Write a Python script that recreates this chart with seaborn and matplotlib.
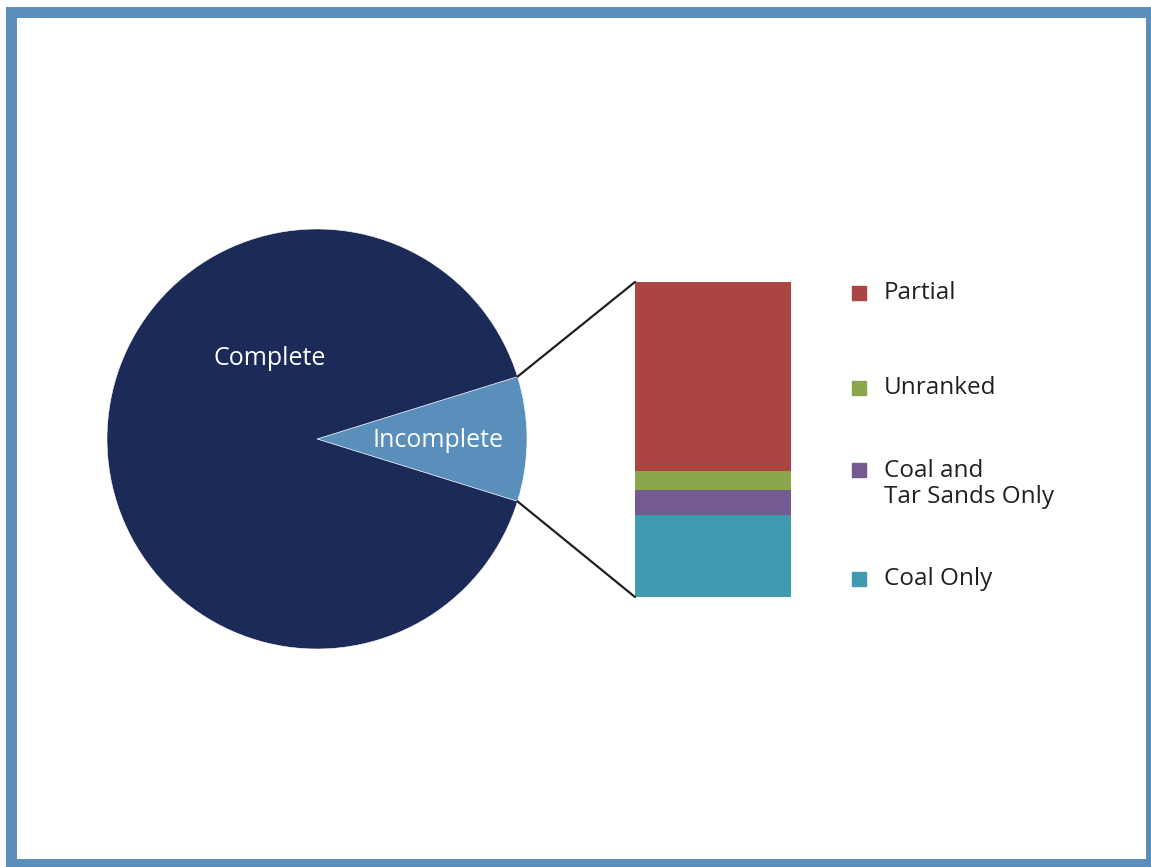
import matplotlib
matplotlib.use("Agg")
import matplotlib.pyplot as plt
from matplotlib.patches import ConnectionPatch, Rectangle
import numpy as np
import seaborn as sns

# pie: share of records
pie_labels = ["Incomplete", "Complete"]
pie_values = [9.6, 90.4]
pie_colors = ["#5b8fbb", "#1b2a57"]

# bar: breakdown of the incomplete slice (bottom to top)
bar_labels = ["Coal Only", "Coal and\nTar Sands Only", "Unranked", "Partial"]
bar_values = [26.0, 8.0, 6.1, 59.9]
bar_colors = ["#409bb0", "#735a90", "#8ba64d", "#ab4542"]

W, H = 1151, 867

sns.set_theme(style="white")
plt.rcParams["font.family"] = ["Open Sans", "DejaVu Sans"]

fig = plt.figure(figsize=(W / 100, H / 100), dpi=100)
fig.patch.set_facecolor("white")

def px_axes(left, top, right, bottom):
    return fig.add_axes([left / W, 1 - bottom / H, (right - left) / W, (bottom - top) / H])

# pie
ax_pie = px_axes(107, 229, 527, 649)
inc_angle = pie_values[0] / sum(pie_values) * 360
wedges, _ = ax_pie.pie(pie_values, colors=pie_colors, startangle=-inc_angle / 2,
                       radius=1, wedgeprops=dict(edgecolor="white", linewidth=0.4))
ax_pie.set_xlim(-1, 1)
ax_pie.set_ylim(-1, 1)
ax_pie.set_aspect("equal")
ax_pie.axis("off")
ax_pie.text(0.576, -0.005, pie_labels[0], color="white", fontsize=18, ha="center", va="center")
ax_pie.text(-0.224, 0.381, pie_labels[1], color="white", fontsize=18, ha="center", va="center")

# stacked bar
ax_bar = px_axes(635, 282, 791, 597)
bottom = 0
for val, col in zip(bar_values, bar_colors):
    ax_bar.bar(0, val, width=1, bottom=bottom, color=col, edgecolor="none")
    bottom += val
ax_bar.set_xlim(-0.5, 0.5)
ax_bar.set_ylim(0, bottom)
ax_bar.axis("off")

# connector lines
theta = np.deg2rad(inc_angle / 2)
for sign, yb in [(1, bottom), (-1, 0)]:
    con = ConnectionPatch(xyA=(np.cos(theta), sign * np.sin(theta)), coordsA=ax_pie.transData,
                          xyB=(-0.5, yb), coordsB=ax_bar.transData,
                          color="#231f20", linewidth=1.6)
    fig.add_artist(con)

# legend (top to bottom)
leg_y = [293, 388, 484, 579]
for lab, col, y in zip(bar_labels[::-1], bar_colors[::-1], leg_y):
    first_line_y = y - 14 if "\n" in lab else y
    fig.add_artist(Rectangle((852 / W, 1 - (first_line_y + 7) / H), 14 / W, 14 / H,
                             transform=fig.transFigure, color=col))
    fig.text(884 / W, 1 - y / H, lab, fontsize=17.5, color="#231f20",
             ha="left", va="center", linespacing=1.15)

# frame
fig.add_artist(Rectangle((11 / W, 3.5 / H), 1139.5 / W, 852 / H, transform=fig.transFigure,
                         fill=False, edgecolor="#5b8fbb", linewidth=7.9))

fig.savefig("out.png", dpi=100)
